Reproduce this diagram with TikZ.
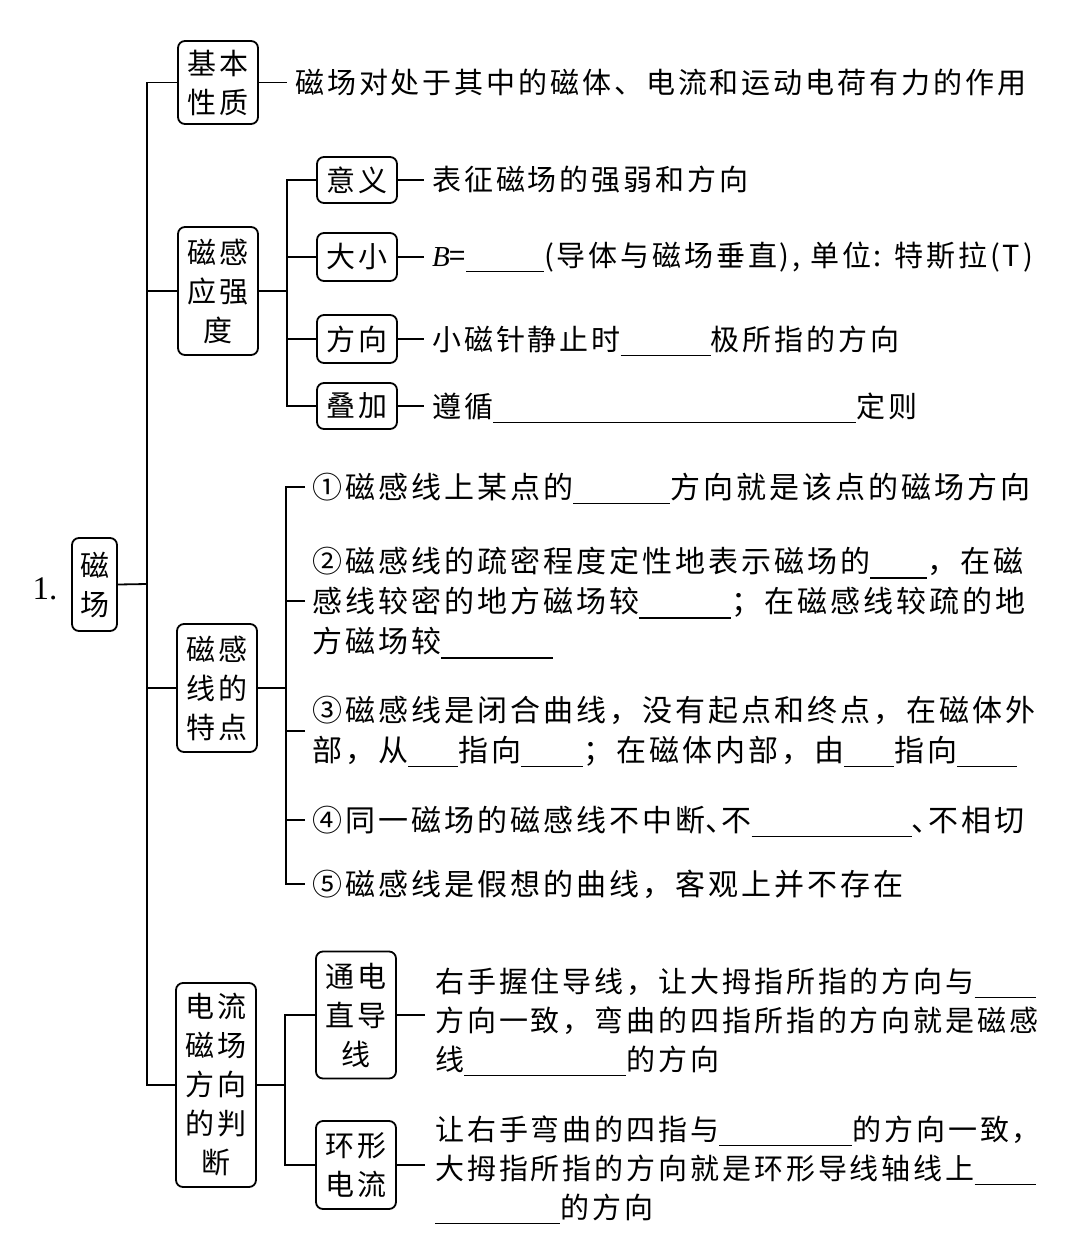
\documentclass[tikz,border=0pt]{standalone}
\usepackage{fontspec}
\newfontfamily\cjk[LetterSpace=10]{Noto Sans CJK SC}
\newfontfamily\numf{Liberation Serif}
\newcommand\blk[1]{\smash{\rule[-6pt]{#1pt}{1.3pt}}}
\newcommand\cpu[1]{\makebox[0.55em][l]{#1}}
\begin{document}
\begin{tikzpicture}[x=1pt,y=-1pt,
 conn/.style={line width=1.8pt},
 box/.style={draw,line width=1.8pt,rounded corners=7pt,inner sep=0pt,align=center,minimum width=80pt,font=\cjk\fontsize{29}{39}\selectfont},
 txt/.style={anchor=west,align=left,inner xsep=8pt,inner ysep=0pt,font=\cjk\fontsize{29}{39}\selectfont},
 txtb/.style={txt,inner xsep=7pt,font=\cjk\fontsize{30}{40}\selectfont}
]
\useasboundingbox (0,0) rectangle (1076,1236);
% level 0
\node[font=\numf\fontsize{33}{33}\selectfont] (num) at (45,589) {1.};
\node[box,minimum width=45pt,minimum height=93pt] (cc) at (94.5,584.5) {磁\\场};
% level 1
\node[box,minimum height=83pt] (jb) at (218,82.5) {基本\\性质};
\node[box,minimum height=128pt] (ci) at (218,291) {磁感\\应强\\度};
\node[box,minimum height=128pt] (cx) at (217,688) {磁感\\线的\\特点};
\node[box,minimum height=204pt] (dl) at (216,1085) {电流\\磁场\\方向\\的判\\断};
% level 2
\node[box,minimum height=46pt] (yy) at (357,180) {意义};
\node[box,minimum height=48pt] (dx) at (357,257) {大小};
\node[box,minimum height=48pt] (fx) at (357,339) {方向};
\node[box,minimum height=46pt] (dj) at (357,406) {叠加};
\node[box,minimum height=127pt] (td) at (356,1015) {通电\\直导\\线};
\node[box,minimum height=88pt] (hx) at (356,1165) {环形\\电流};
% texts
\node[txt] (jbT) at (287,82.5) {磁场对处于其中的磁体、电流和运动电荷有力的作用};
\node[txt] (yyT) at (424,180) {表征磁场的强弱和方向};
\node[txt] (dxT) at (424,257) {{\numf\itshape B}=\blk{78}(导体与磁场垂直), 单位: 特斯拉(T)};
\node[txt] (fxT) at (424,339) {小磁针静止时\blk{90}极所指的方向};
\node[txt] (djT) at (424,406) {遵循\blk{363}定则};
\node[txtb] (i1) at (305,487) {①磁感线上某点的\blk{97}方向就是该点的磁场方向};
\node[txtb] (i2) at (305,601) {②磁感线的疏密程度定性地表示磁场的\blk{57}，在磁\\感线较密的地方磁场较\blk{92}；在磁感线较疏的地\\方磁场较\blk{112}};
\node[txtb] (i3) at (305,731) {③磁感线是闭合曲线，没有起点和终点，在磁体外\\部，从\blk{50}指向\blk{62}；在磁体内部，由\blk{50}指向\blk{60}};
\node[txtb] (i4) at (305,820) {④同一磁场的磁感线不中断\cpu{、}不\blk{160}\cpu{、}不相切};
\node[txtb] (i5) at (305,884) {⑤磁感线是假想的曲线，客观上并不存在};
\node[txt,inner xsep=10pt] (tdT) at (425,1020) {右手握住导线，让大拇指所指的方向与\blk{61}\\方向一致，弯曲的四指所指的方向就是磁感\\线\blk{162}的方向};
\node[txt,inner xsep=10pt] (hxT) at (425,1168) {让右手弯曲的四指与\blk{133}的方向一致，\\大拇指所指的方向就是环形导线轴线上\blk{61}\\\blk{125}的方向};
% connectors level 0-1
\coordinate (T1) at (147,584);
\draw[conn] (cc.east) -- (T1);
\draw[conn] (jb.west) -| (T1) |- (dl.west);
\draw[conn] (ci.west) -- (ci.west -| T1);
\draw[conn] (cx.west) -- (cx.west -| T1);
\draw[conn] (jb.east) -- (jbT.west);
% 磁感应强度
\coordinate (T2) at (287,291);
\draw[conn] (ci.east) -- (T2);
\draw[conn] (yy.west) -| (T2) |- (dj.west);
\draw[conn] (dx.west) -- (dx.west -| T2);
\draw[conn] (fx.west) -- (fx.west -| T2);
\draw[conn] (yy.east) -- (yyT.west);
\draw[conn] (dx.east) -- (dxT.west);
\draw[conn] (fx.east) -- (fxT.west);
\draw[conn] (dj.east) -- (djT.west);
% 磁感线的特点
\coordinate (T3) at (286,688);
\draw[conn] (cx.east) -- (T3);
\draw[conn] (i1.west) -| (T3) |- (i5.west);
\draw[conn] (i2.west) -- (i2.west -| T3);
\draw[conn] (i3.west) -- (i3.west -| T3);
\draw[conn] (i4.west) -- (i4.west -| T3);
% 电流磁场方向的判断
\coordinate (T4) at (285,1085);
\draw[conn] (dl.east) -- (T4);
\draw[conn] (td.west) -| (T4) |- (hx.west);
\draw[conn] (td.east) -- (td.east -| tdT.west);
\draw[conn] (hx.east) -- (hx.east -| hxT.west);
\end{tikzpicture}
\end{document}
